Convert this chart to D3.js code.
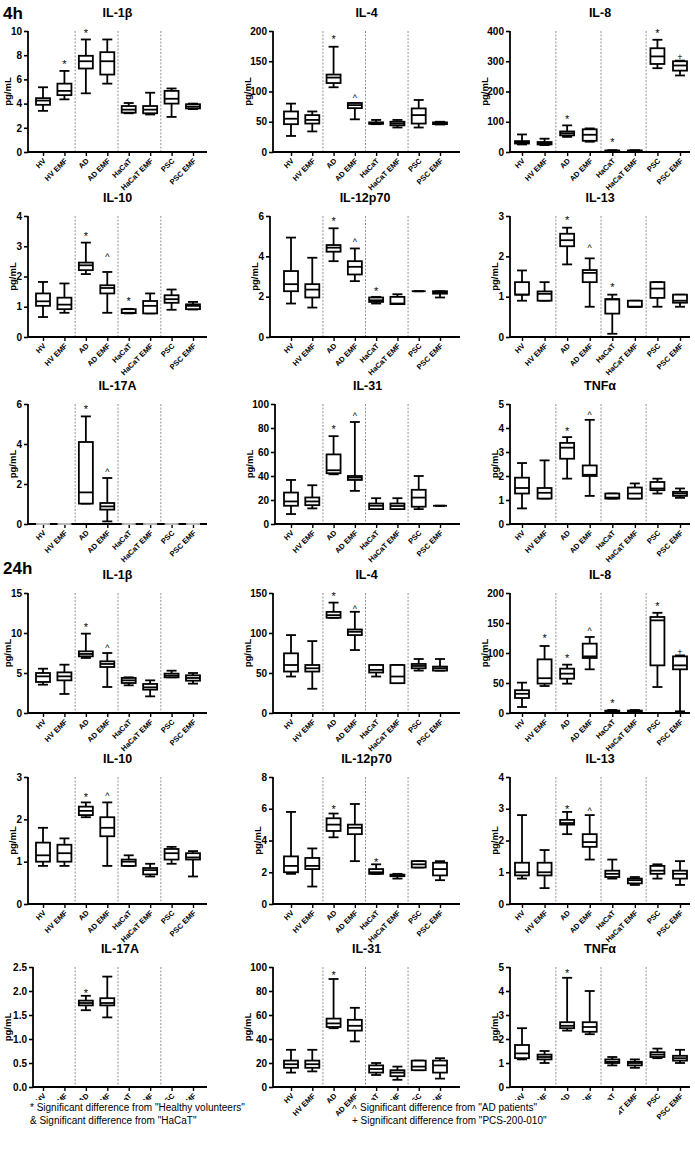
<!DOCTYPE html>
<html><head><meta charset="utf-8">
<script src="https://cdn.jsdelivr.net/npm/d3@7"></script>
<style>body{margin:0;background:#fff}svg{display:block}</style></head>
<body><svg id="c" width="695" height="1153"></svg>
<script>
const categories = ["HV","HV EMF","AD","AD EMF","HaCaT","HaCaT EMF","PSC","PSC EMF"];
// each box: [min, q1, median, q3, max]
// ---- 4h ----
const il1b_4h = [[3.4,3.9,4.25,4.45,5.35],[4.35,4.7,5.05,5.65,6.7],[4.85,6.9,7.5,7.95,9.3],[5.65,6.4,7.5,8.25,9.3],[3.2,3.25,3.5,3.8,4.05],[3.1,3.2,3.5,3.8,4.9],[2.9,4.0,4.4,5.05,5.25],[3.55,3.6,3.75,3.95,4.0]];
const il4_4h = [[26.5,46,55,67,80],[34,47,53,61,67],[107,114,123,128,174],[54,72.5,77.5,81,81],[46,46.5,47.5,49,53],[40.5,44,47,50,53],[40.5,47,61,72,86],[45.5,46,47,49,50]];
const il8_4h = [[25,28,32,36,58],[23,25,29,33,44],[50,55,62,68,88],[34,37,57,75,78],[2,3,4,5,6],[2,3,4,5,6],[277,291,316,343,371],[253,269,286,300,302]];
const il10_4h = [[0.66,1.03,1.18,1.44,1.82],[0.8,0.92,1.07,1.3,1.77],[2.08,2.21,2.37,2.46,3.12],[0.8,1.44,1.62,1.71,2.15],[0.78,0.79,0.8,0.92,0.93],[0.78,0.78,1.03,1.19,1.44],[0.9,1.13,1.25,1.38,1.57],[0.91,0.92,1.03,1.08,1.16]];
const il12_4h = [[1.66,2.27,2.62,3.27,4.93],[1.46,1.96,2.35,2.62,3.93],[3.76,4.23,4.43,4.56,5.39],[2.77,3.1,3.48,3.76,4.39],[1.66,1.74,1.82,1.96,1.99],[1.63,1.63,1.66,1.99,2.12],[2.27,2.27,2.27,2.27,2.27],[1.96,2.15,2.22,2.27,2.27]];
const il13_4h = [[0.9,1.05,1.05,1.36,1.65],[0.9,0.9,1.07,1.13,1.36],[1.8,2.25,2.4,2.56,2.71],[0.75,1.36,1.59,1.66,1.95],[0.08,0.58,0.93,0.94,1.05],[0.75,0.75,0.75,0.9,0.9],[0.75,0.97,1.2,1.36,1.36],[0.75,0.85,0.9,1.05,1.05]];
const il17_4h = [[0,0,0,0,0],[0,0,0,0,0],[1.02,1.02,1.58,4.1,5.38],[0.13,0.72,0.88,1.05,2.3],[0,0,0,0,0],[0,0,0,0,0],[0,0,0,0,0],[0,0,0,0,0]];
const il31_4h = [[8.3,15.2,18.8,26.2,36.7],[13,15.7,18.8,22.1,32.3],[41.4,42.3,44.8,58,73.2],[27.6,36.7,38.7,40,85],[12.4,12.4,15.2,17.1,21.5],[12.4,12.4,15,17.1,21.5],[12.4,14.4,22,28.5,40],[15.2,15.2,15.2,15.2,15.2]];
const tnf_4h = [[0.65,1.27,1.5,1.93,2.54],[1.06,1.06,1.3,1.5,2.65],[1.89,2.72,3.18,3.38,3.62],[1.17,2.0,2.05,2.44,4.34],[1.06,1.06,1.1,1.27,1.27],[1.06,1.06,1.27,1.52,1.69],[1.27,1.41,1.48,1.75,1.89],[1.09,1.17,1.27,1.34,1.48]];
// ---- 24h ----
const il1b_24h = [[3.54,3.88,4.58,5.0,5.54],[2.38,4.08,4.58,5.08,6.04],[6.88,7.08,7.38,7.71,9.92],[3.25,5.75,6.13,6.46,7.5],[3.46,3.75,4.08,4.38,4.46],[2.08,2.92,3.21,3.63,4.08],[4.46,4.46,4.67,4.92,5.29],[3.67,4.04,4.38,4.71,5.0]];
const il4_24h = [[45.6,51.8,60,74.6,97.4],[30.3,51.8,55.9,60,89.9],[119,119,122.3,126.4,138],[78.7,97.4,101.5,104.4,126.5],[45.6,50.6,53.9,60,60],[37.3,37.3,45.6,60,60],[53,55.9,58.8,61.3,67.5],[53,53,55.9,58,67.5]];
const il8_24h = [[10,25,32,38,50.6],[45,49,58,89.4,111.7],[48.9,57.2,65.6,73.9,80.6],[72.8,91.7,94.4,115.6,126.7],[1,2,3,4,5],[1,2,3,4,5],[43.3,79.4,154.4,160,167],[2.8,72.8,79.4,94.4,96]];
const il10_24h = [[0.9,1.0,1.15,1.45,1.8],[0.9,1.0,1.2,1.4,1.55],[2.05,2.1,2.2,2.3,2.4],[0.9,1.6,1.8,2.05,2.4],[0.9,0.9,1.0,1.05,1.15],[0.65,0.7,0.8,0.85,0.95],[0.95,1.05,1.2,1.3,1.35],[0.65,1.05,1.1,1.2,1.25]];
const il12_24h = [[1.9,2.0,2.4,3.0,5.8],[1.1,2.2,2.4,2.9,3.5],[4.2,4.6,5.0,5.4,5.7],[2.7,4.4,4.8,5.0,6.3],[1.9,1.9,2.0,2.2,2.5],[1.6,1.75,1.8,1.85,1.9],[2.3,2.3,2.5,2.7,2.7],[1.5,1.8,2.2,2.6,2.7]];
const il13_24h = [[0.8,0.9,1.0,1.3,2.8],[0.5,0.9,1.0,1.3,1.7],[2.2,2.5,2.55,2.65,2.9],[1.4,1.8,1.95,2.2,2.8],[0.8,0.85,0.95,1.05,1.4],[0.6,0.65,0.75,0.8,0.85],[0.8,0.95,1.05,1.2,1.25],[0.6,0.8,0.95,1.05,1.35]];
const il17_24h = [null,null,[1.6,1.7,1.75,1.8,1.9],[1.45,1.7,1.75,1.85,2.3],null,null,null,null];
const il31_24h = [[12,16,19,22,31],[13,16,19,22,31],[49,50,53,57,90],[38,47,51,56,66],[10,12,15,18,20],[6,9,12,14,17],[14,14,17,22,22],[7,12,18,22,24]];
const tnf_24h = [[1.15,1.2,1.4,1.75,2.45],[1.0,1.15,1.25,1.35,1.5],[2.35,2.45,2.55,2.7,4.55],[2.2,2.3,2.5,2.7,4.0],[0.9,1.0,1.05,1.15,1.25],[0.8,0.9,1.0,1.05,1.15],[1.2,1.25,1.35,1.45,1.6],[1.0,1.1,1.2,1.3,1.55]];
// significance marks: [category index, symbol, value]
const marks_il1b_4h = [[1,"*",7.4],[2,"*",10.0]];
const marks_il4_4h = [[2,"*",190],[3,"^",91]];
const marks_il8_4h = [[2,"*",117],[4,"*",39],[6,"*",400],[7,"+",318]];
const marks_il10_4h = [[2,"*",3.4],[3,"^",2.67],[4,"*",1.24]];
const marks_il12_4h = [[2,"*",5.85],[3,"^",4.76],[4,"*",2.4]];
const marks_il13_4h = [[2,"*",2.94],[3,"^",2.24],[4,"*",1.3]];
const marks_il17_4h = [[2,"*",5.83],[3,"^",2.63]];
const marks_il31_4h = [[2,"*",81],[3,"^",90.6]];
const marks_tnf_4h = [[2,"*",3.96],[3,"^",4.6]];
const marks_il1b_24h = [[2,"*",11.0],[3,"^",8.3]];
const marks_il4_24h = [[2,"*",149],[3,"^",131]];
const marks_il8_24h = [[1,"*",128],[2,"*",95],[3,"^",138],[4,"*",20],[6,"*",182],[7,"+",104]];
const marks_il10_24h = [[2,"*",2.58],[3,"^",2.58]];
const marks_il12_24h = [[2,"*",6.1],[4,"*",2.8]];
const marks_il13_24h = [[2,"*",3.05],[3,"^",2.95]];
const marks_il17_24h = [[2,"*",2.0]];
const marks_il31_24h = [[2,"*",95]];
const marks_tnf_24h = [[2,"*",4.85]];
const yTicks = {
  il1b_4h:[0,2,4,6,8,10], il4_4h:[0,50,100,150,200], il8_4h:[0,100,200,300,400],
  il10_4h:[0,1,2,3,4], il12_4h:[0,2,4,6], il13_4h:[0,1,2,3],
  il17_4h:[0,2,4,6], il31_4h:[0,20,40,60,80,100], tnf_4h:[0,1,2,3,4,5],
  il1b_24h:[0,5,10,15], il4_24h:[0,50,100,150], il8_24h:[0,50,100,150,200],
  il10_24h:[0,1,2,3], il12_24h:[0,2,4,6,8], il13_24h:[0,1,2,3,4],
  il17_24h:[0,0.5,1,1.5,2,2.5], il31_24h:[0,20,40,60,80,100], tnf_24h:[0,1,2,3,4,5]
};
const titles = ["IL-1β","IL-4","IL-8","IL-10","IL-12p70","IL-13","IL-17A","IL-31","TNFα"];
const sectionLabels = ["4h","24h"];
const legendLeft = ["* Significant difference from \"Healthy volunteers\"","& Significant difference from \"HaCaT\""];
const legendRight = ["^","Significant difference from \"AD patients\"","+ Significant difference from \"PCS-200-010\""];

const panels = [
  ["il1b_4h",il1b_4h,marks_il1b_4h],["il4_4h",il4_4h,marks_il4_4h],["il8_4h",il8_4h,marks_il8_4h],
  ["il10_4h",il10_4h,marks_il10_4h],["il12_4h",il12_4h,marks_il12_4h],["il13_4h",il13_4h,marks_il13_4h],
  ["il17_4h",il17_4h,marks_il17_4h],["il31_4h",il31_4h,marks_il31_4h],["tnf_4h",tnf_4h,marks_tnf_4h],
  ["il1b_24h",il1b_24h,marks_il1b_24h],["il4_24h",il4_24h,marks_il4_24h],["il8_24h",il8_24h,marks_il8_24h],
  ["il10_24h",il10_24h,marks_il10_24h],["il12_24h",il12_24h,marks_il12_24h],["il13_24h",il13_24h,marks_il13_24h],
  ["il17_24h",il17_24h,marks_il17_24h],["il31_24h",il31_24h,marks_il31_24h],["tnf_24h",tnf_24h,marks_tnf_24h]
];

// layout
const cols = [{ax:28,x0:43,x1:193,xe:207},{ax:273,x0:291,x1:440,xe:460},{ax:510,x0:522,x1:680,xe:690}];
const rows = [{t:31,b:152},{t:216,b:337},{t:404,b:524},{t:593,b:713},{t:777,b:904},{t:967,b:1087}];
const axOverride = {il12_4h:270, il31_4h:275, il17_24h:33};
const FONT = "Liberation Sans, Arial, sans-serif";
const svg = d3.select("#c").style("font-family",FONT);

panels.forEach((p,i)=>{
  const [key,data,marks] = p;
  const r = rows[Math.floor(i/3)], c0 = cols[i%3];
  const c = Object.assign({}, c0, axOverride[key] ? {ax:axOverride[key]} : {});
  const ticks = yTicks[key];
  const y = d3.scaleLinear().domain([0,d3.max(ticks)]).range([r.b,r.t]);
  const x = d3.scalePoint().domain(categories).range([c.x0,c.x1]);
  const g = svg.append("g");
  // title
  g.append("text").attr("x",(c.ax+c.xe)/2).attr("y",r.t-14).attr("text-anchor","middle")
    .attr("font-size",12.5).attr("font-weight","bold").text(titles[i%9]);
  // dashed separators
  [[1,2],[3,4],[5,6]].forEach(([a,b])=>{
    const xx=(x(categories[a])+x(categories[b]))/2;
    g.append("line").attr("x1",xx).attr("x2",xx).attr("y1",r.t).attr("y2",r.b)
      .attr("stroke","#777").attr("stroke-width",0.8).attr("stroke-dasharray","2,1.5");
  });
  // y axis
  const fmt = key==="il17_24h" ? d3.format(".1f") : d3.format("d");
  const ya = g.append("g").attr("transform",`translate(${c.ax},0)`)
    .call(d3.axisLeft(y).tickValues(ticks).tickSize(4).tickPadding(2).tickFormat(fmt));
  ya.select(".domain").attr("stroke-width",1.8).attr("d",`M0,${r.b}V${r.t}`);
  ya.selectAll(".tick line").attr("stroke-width",1.6);
  ya.selectAll("text").attr("font-size",10).attr("font-weight","bold").attr("font-family",FONT);
  // y label
  const maxLen = d3.max(ticks.map(t=>fmt(t).length));
  g.append("text").attr("transform",`translate(${c.ax-7-maxLen*5},${(r.t+r.b)/2}) rotate(-90)`)
    .attr("text-anchor","middle").attr("font-size",9.5).attr("font-weight","bold").text("pg/mL");
  // x axis
  const xa = g.append("g").attr("transform",`translate(0,${r.b})`)
    .call(d3.axisBottom(x).tickSize(4).tickFormat(""));
  xa.select(".domain").attr("stroke-width",1.8).attr("d",`M${c.ax},0H${c.xe}`);
  xa.selectAll(".tick line").attr("stroke-width",1.4);
  categories.forEach(cat=>{
    g.append("text").attr("transform",`translate(${x(cat)+2},${r.b+8}) rotate(-45)`)
      .attr("text-anchor","end").attr("dominant-baseline","middle")
      .attr("font-size",7.5).attr("font-weight","bold").text(cat);
  });
  // boxes
  const bw=14, cw=10;
  data.forEach((d,j)=>{
    if(!d) return;
    const cx=x(categories[j]);
    const [mn,q1,md,q3,mx]=d;
    const flat = mx===mn;
    const bg=g.append("g").attr("stroke",flat&&mx===0?"#bbb":"#000").attr("stroke-width",1.8).attr("fill","none");
    bg.append("line").attr("x1",cx).attr("x2",cx).attr("y1",y(mx)).attr("y2",y(q3));
    bg.append("line").attr("x1",cx).attr("x2",cx).attr("y1",y(q1)).attr("y2",y(mn));
    bg.append("line").attr("x1",cx-cw/2).attr("x2",cx+cw/2).attr("y1",y(mx)).attr("y2",y(mx));
    bg.append("line").attr("x1",cx-cw/2).attr("x2",cx+cw/2).attr("y1",y(mn)).attr("y2",y(mn));
    bg.append("rect").attr("x",cx-bw/2).attr("width",bw).attr("y",y(q3)).attr("height",Math.max(0,y(q1)-y(q3))).attr("fill","#fff");
    bg.append("line").attr("x1",cx-bw/2).attr("x2",cx+bw/2).attr("y1",y(md)).attr("y2",y(md));
  });
  // significance marks
  const mg = g.append("g").attr("opacity",0.99);
  marks.forEach(([j,s,v])=>{
    mg.append("text").attr("x",x(categories[j])).attr("y",y(v)+ (s==="*"?6:4)).attr("text-anchor","middle")
      .attr("fill","#000").attr("font-size",s==="*"?11:9).text(s);
  });
});

// section labels
svg.append("text").attr("x",3).attr("y",19).attr("font-size",17).attr("font-weight","bold").text(sectionLabels[0]);
svg.append("text").attr("x",3).attr("y",574).attr("font-size",17).attr("font-weight","bold").text(sectionLabels[1]);
// legend (drawn over the lowest tick labels, as in the source figure)
svg.append("rect").attr("x",24).attr("y",1100).attr("width",240).attr("height",30).attr("fill","#fff");
svg.append("rect").attr("x",359).attr("y",1100).attr("width",260).attr("height",30).attr("fill","#fff");
legendLeft.forEach((t,k)=>svg.append("text").attr("x",30).attr("y",1111+k*13).attr("font-size",10).attr("fill","#000").text(t));
svg.append("text").attr("x",352).attr("y",1113).attr("font-size",10).attr("fill","#000").text(legendRight[0]);
svg.append("text").attr("x",360).attr("y",1111).attr("font-size",10).attr("fill","#000").text(legendRight[1]);
svg.append("text").attr("x",352).attr("y",1124).attr("font-size",10).attr("fill","#000").text(legendRight[2]);
</script></body></html>
